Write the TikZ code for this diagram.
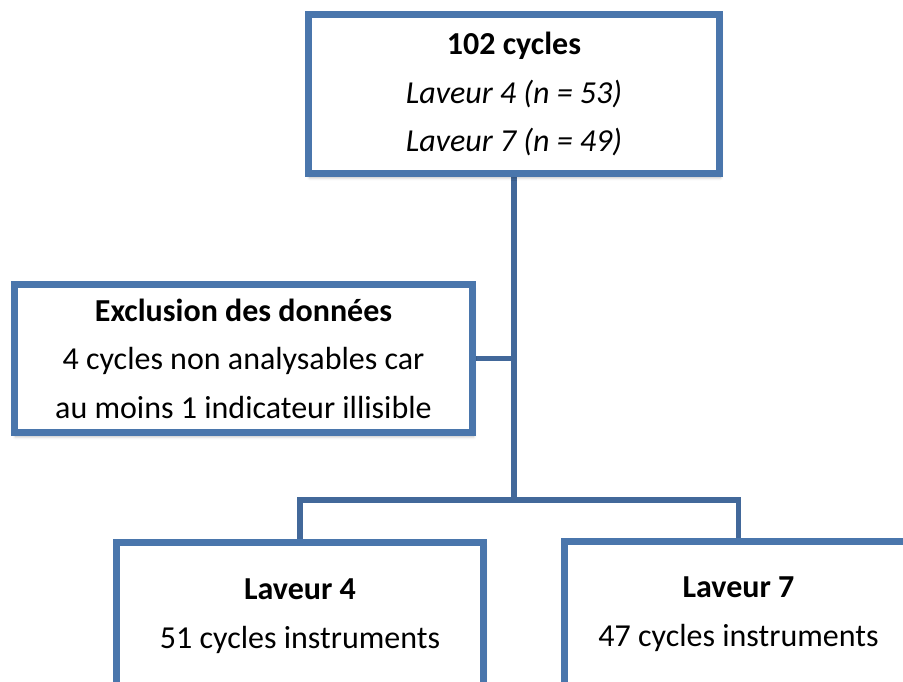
\documentclass[tikz,border=0pt]{standalone}
\usepackage{fontspec}
\setmainfont{Carlito}
\usetikzlibrary{shadows.blur,backgrounds}
\definecolor{boxblue}{RGB}{74,118,172}
\definecolor{linkblue}{RGB}{66,104,154}
\begin{document}
\begin{tikzpicture}[x=1pt,y=-1pt,
  box/.style={draw=boxblue, line width=7pt, fill=white, rectangle, inner sep=0pt,
    align=center, font=\fontsize{32}{48.5}\selectfont,
    blur shadow={shadow xshift=1pt, shadow yshift=-4pt, shadow blur radius=3pt, shadow opacity=30}},
  txt/.style={align=center, font=\fontsize{32}{48.5}\selectfont, inner sep=0pt},
  link/.style={draw=linkblue, line width=5.5pt}]
\useasboundingbox (0,0) rectangle (903,682);
\clip (0,0) rectangle (903,682);

\node[box, minimum width=410.5pt, minimum height=159pt] (top) at (514,94)
  {\textbf{102 cycles}\\ \textit{Laveur 4 (n = 53)}\\ \textit{Laveur 7 (n = 49)}};
\node[box, minimum width=458pt, minimum height=148pt] (excl) at (243.5,358.5)
  {\textbf{Exclusion des données}\\ 4 cycles non analysables car\\ au moins 1 indicateur illisible};
\node[box, minimum width=367.5pt, minimum height=200pt] (l4) at (299.75,642) {};
\node[box, minimum width=348pt, minimum height=200pt] (l7) at (738.5,641.5) {};
\node[txt] (l4t) at (300,616) {\textbf{Laveur 4}\\ 51 cycles instruments};
\node[txt] (l7t) at (738.5,614) {\textbf{Laveur 7}\\ 47 cycles instruments};

\coordinate (j) at (514,500);
\begin{scope}[on background layer]
\draw[link] (top.south) -- (j);
\draw[link] (excl.east) -- (excl.east -| j);
\draw[link] (l4.north) |- (j) -| (l7.north);
\end{scope}
\end{tikzpicture}
\end{document}
